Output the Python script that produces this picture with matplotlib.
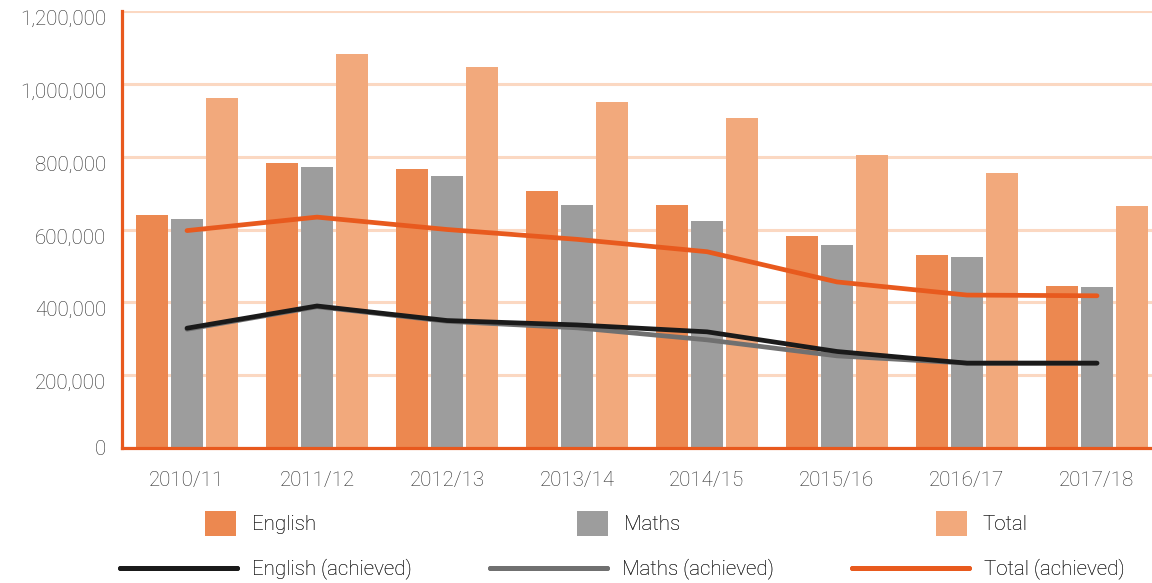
import matplotlib
matplotlib.use("Agg")
import matplotlib.pyplot as plt
import matplotlib.transforms as mtransforms
import numpy as np
from matplotlib.patches import Patch
from matplotlib.lines import Line2D

years = ["2010/11", "2011/12", "2012/13", "2013/14", "2014/15", "2015/16", "2016/17", "2017/18"]
english = [640000, 782000, 765000, 707000, 667000, 582000, 530000, 445000]
maths = [630000, 771000, 746000, 667000, 623000, 557000, 524000, 442000]
total = [960000, 1083000, 1047000, 951000, 905000, 804000, 754000, 664000]
english_achieved = [329000, 390000, 350000, 338000, 319000, 265000, 233000, 233000]
maths_achieved = [326000, 388000, 348000, 330000, 297000, 253000, 233000, 233000]
total_achieved = [597000, 634000, 600000, 573000, 539000, 456000, 420000, 418000]
yticks = [0, 200000, 400000, 600000, 800000, 1000000, 1200000]

C_ENG = "#EC8850"
C_MAT = "#9D9D9D"
C_TOT = "#F2A97C"
C_ENG_L = "#1A1A1A"
C_MAT_L = "#707070"
C_TOT_L = "#E85A1E"
C_AXIS = "#E8591E"
C_GRID = "#FBD8C2"
C_TEXT = "#2A2A2A"

FONT = "Roboto"
FS = 14.8
plt.rcParams["font.family"] = [FONT, "DejaVu Sans"]
plt.rcParams["font.weight"] = "light"

fig = plt.figure(figsize=(11.52, 5.83), dpi=100)
ax = fig.add_axes([122 / 1152, 1 - 448 / 583, 1 - 122 / 1152, (448 - 11) / 583])

x = np.arange(len(years))
w = 32 / 130
off = 35 / 130
ax.bar(x - off, english, w, color=C_ENG, zorder=2)
ax.bar(x, maths, w, color=C_MAT, zorder=2)
ax.bar(x + off, total, w, color=C_TOT, zorder=2)

lw = 3.4
ax.plot(x, maths_achieved, color=C_MAT_L, lw=lw, solid_capstyle="round", solid_joinstyle="round", zorder=3)
ax.plot(x, english_achieved, color=C_ENG_L, lw=lw, solid_capstyle="round", solid_joinstyle="round", zorder=4)
ax.plot(x, total_achieved, color=C_TOT_L, lw=lw, solid_capstyle="round", solid_joinstyle="round", zorder=4)

ax.set_xlim(-0.5, (1152 - 187) / 130)
ax.set_ylim(0, 1200000)
ax.set_yticks(yticks)
ax.set_yticklabels([])
ax.set_xticks(x)
ax.set_xticklabels(years)
ax.tick_params(axis="both", length=0, labelsize=FS, labelcolor=C_TEXT)
ax.tick_params(axis="x", pad=16.5)
ax.grid(axis="y", color=C_GRID, lw=2.2, zorder=0)
ax.set_axisbelow(True)
for s in ["top", "right"]:
    ax.spines[s].set_visible(False)
for s in ["left", "bottom"]:
    ax.spines[s].set_color(C_AXIS)
    ax.spines[s].set_linewidth(2.3)
    ax.spines[s].set_zorder(5)

# y labels sit slightly below their gridlines
base = mtransforms.blended_transform_factory(ax.transAxes, ax.transData)
for v in yticks:
    dy = -1.5 if v == 0 else -8.5
    tr = base + mtransforms.ScaledTranslation(-16 / 100, dy / 100, fig.dpi_scale_trans)
    ax.text(0, v, f"{v:,}", transform=tr, ha="right", va="center",
            fontsize=FS, color=C_TEXT, clip_on=False)


def place(handle, label, px, py, hl, hh, pad):
    leg = fig.legend([handle], [label], loc="center left",
                     bbox_to_anchor=(px / 1152, 1 - py / 583),
                     bbox_transform=fig.transFigure, frameon=False,
                     borderpad=0, borderaxespad=0, handlelength=hl,
                     handleheight=hh, handletextpad=pad,
                     prop={"family": FONT, "weight": "light", "size": FS})
    for t in leg.get_texts():
        t.set_color(C_TEXT)
    fig.add_artist(leg)


for col, lab, px in [(C_ENG, "English", 205), (C_MAT, "Maths", 577), (C_TOT, "Total", 936)]:
    place(Patch(facecolor=col, edgecolor="none"), lab, px, 523.5, 1.5, 1.5, 0.78)

for col, lab, px in [(C_ENG_L, "English (achieved)", 120), (C_MAT_L, "Maths (achieved)", 490),
                     (C_TOT_L, "Total (achieved)", 852)]:
    place(Line2D([], [], color=col, lw=3.6, solid_capstyle="round"), lab, px, 569, 5.7, 0.7, 0.73)

fig.savefig("out.png", dpi=100)
